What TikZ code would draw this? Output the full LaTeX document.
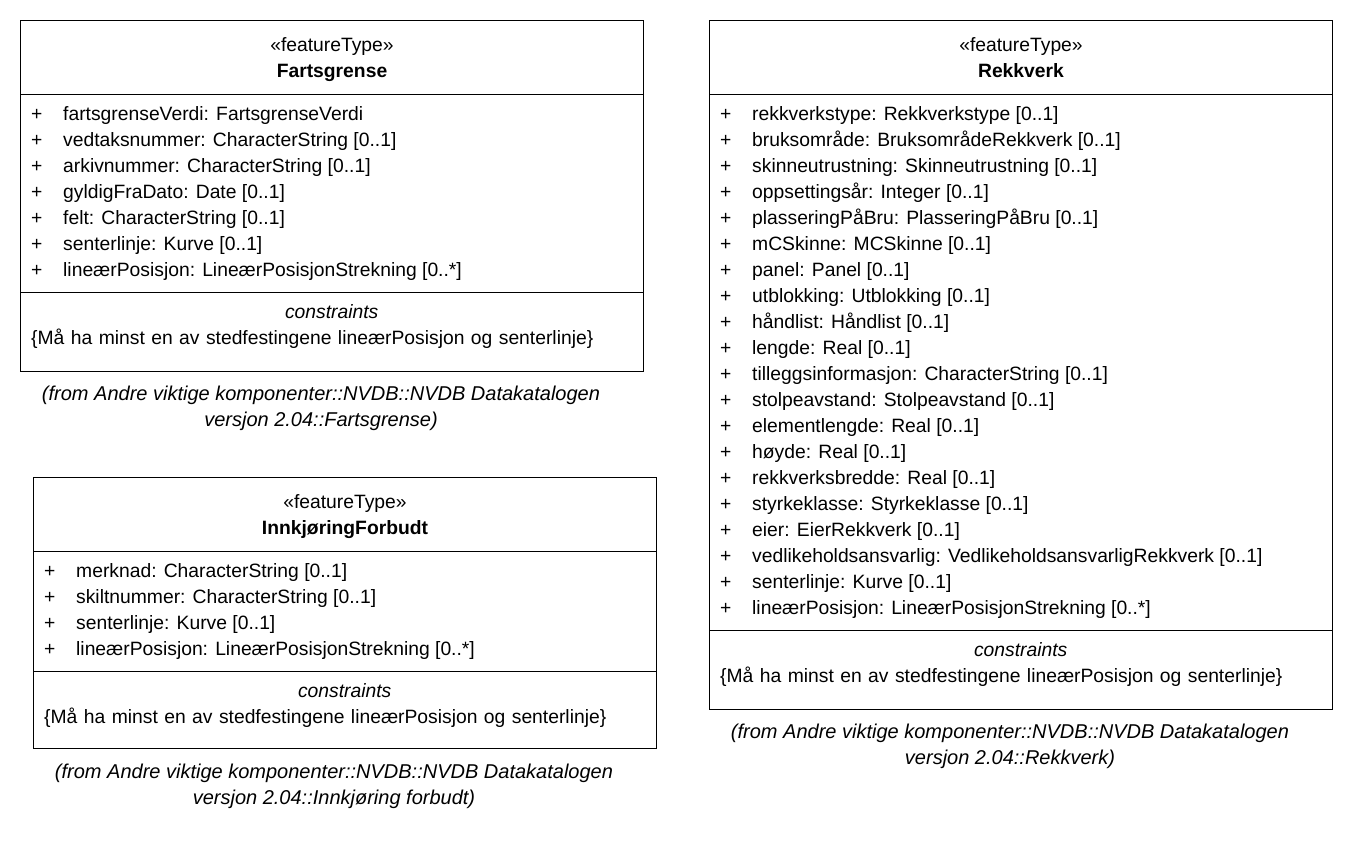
\documentclass[tikz,border=0pt]{standalone}
\usepackage{fontspec}
\setmainfont{Liberation Sans}
\usetikzlibrary{positioning}
\tikzset{
  uml_font/.style = {font=\fontsize{19.3}{26}\selectfont},
  note_font/.style = {font=\fontsize{20}{26}\selectfont\itshape},
  box_line/.style = {line width=1pt}
}
\tikzset{
  frame/.style = {draw, box_line, anchor=north west, inner sep=0, minimum width=623},
  head/.style = {uml_font, align=center, anchor=north, inner sep=0, minimum height=74, text width=623},
  attrs/.style = {uml_font, anchor=north west, inner xsep=11, inner ysep=8},
  cons/.style = {uml_font, anchor=north west, inner xsep=11, inner ysep=7, text width=601, align=left},
  note/.style = {note_font, align=center, anchor=north, inner sep=0, xshift=-11}
}

\begin{document}
\begin{tikzpicture}[x=1pt, y=-1pt, node distance=10pt]
        \useasboundingbox (0,0) rectangle (1354,844);

        % Frames
        \node[frame, minimum height=351] (fg) at (20,20) {};
        \node[frame, minimum height=689] (rv) at (709,20) {};
        \node[frame, minimum height=271] (ik) at (33,477) {};

        % Fartsgrense
        \node[head] at (fg.north) (fg_head) {
            \rule{0pt}{22pt}«featureType»\\ \textbf{Fartsgrense}\strut
            };
        \node[attrs] at (fg_head.south -| fg.west) (fg_attr) {
            \begin{tabular}{@{}p{32pt}@{}l@{}}
            + & fartsgrenseVerdi: FartsgrenseVerdi \\
            + & vedtaksnummer: CharacterString [0..1] \\
            + & arkivnummer: CharacterString [0..1] \\
            + & gyldigFraDato: Date [0..1] \\
            + & felt: CharacterString [0..1] \\
            + & senterlinje: Kurve [0..1] \\
            + & lineærPosisjon: LineærPosisjonStrekning [0..*]
            \end{tabular}
            };
        \node[cons] at (fg_attr.south -| fg.west) (fg_cons) {
            \strut\makebox[601pt]{\itshape constraints}\\
            \{Må ha minst en av stedfestingene lineærPosisjon og senterlinje\}
            };
        \node[note, below=of fg] (fg_note) {
            \strut(from Andre viktige komponenter::NVDB::NVDB Datakatalogen\\
            versjon 2.04::Fartsgrense)\strut
            };

        % Rekkverk
        \node[head] at (rv.north) (rv_head) {
            \rule{0pt}{22pt}«featureType»\\ \textbf{Rekkverk}\strut
            };
        \node[attrs] at (rv_head.south -| rv.west) (rv_attr) {
            \begin{tabular}{@{}p{32pt}@{}l@{}}
            + & rekkverkstype: Rekkverkstype [0..1] \\
            + & bruksområde: BruksområdeRekkverk [0..1] \\
            + & skinneutrustning: Skinneutrustning [0..1] \\
            + & oppsettingsår: Integer [0..1] \\
            + & plasseringPåBru: PlasseringPåBru [0..1] \\
            + & mCSkinne: MCSkinne [0..1] \\
            + & panel: Panel [0..1] \\
            + & utblokking: Utblokking [0..1] \\
            + & håndlist: Håndlist [0..1] \\
            + & lengde: Real [0..1] \\
            + & tilleggsinformasjon: CharacterString [0..1] \\
            + & stolpeavstand: Stolpeavstand [0..1] \\
            + & elementlengde: Real [0..1] \\
            + & høyde: Real [0..1] \\
            + & rekkverksbredde: Real [0..1] \\
            + & styrkeklasse: Styrkeklasse [0..1] \\
            + & eier: EierRekkverk [0..1] \\
            + & vedlikeholdsansvarlig: VedlikeholdsansvarligRekkverk [0..1] \\
            + & senterlinje: Kurve [0..1] \\
            + & lineærPosisjon: LineærPosisjonStrekning [0..*]
            \end{tabular}
            };
        \node[cons] at (rv_attr.south -| rv.west) (rv_cons) {
            \strut\makebox[601pt]{\itshape constraints}\\
            \{Må ha minst en av stedfestingene lineærPosisjon og senterlinje\}
            };
        \node[note, below=of rv] (rv_note) {
            \strut(from Andre viktige komponenter::NVDB::NVDB Datakatalogen\\
            versjon 2.04::Rekkverk)\strut
            };

        % InnkjøringForbudt
        \node[head] at (ik.north) (ik_head) {
            \rule{0pt}{22pt}«featureType»\\ \textbf{InnkjøringForbudt}\strut
            };
        \node[attrs] at (ik_head.south -| ik.west) (ik_attr) {
            \begin{tabular}{@{}p{32pt}@{}l@{}}
            + & merknad: CharacterString [0..1] \\
            + & skiltnummer: CharacterString [0..1] \\
            + & senterlinje: Kurve [0..1] \\
            + & lineærPosisjon: LineærPosisjonStrekning [0..*]
            \end{tabular}
            };
        \node[cons] at (ik_attr.south -| ik.west) (ik_cons) {
            \strut\makebox[601pt]{\itshape constraints}\\
            \{Må ha minst en av stedfestingene lineærPosisjon og senterlinje\}
            };
        \node[note, below=11pt of ik] (ik_note) {
            \strut(from Andre viktige komponenter::NVDB::NVDB Datakatalogen\\
            versjon 2.04::Innkjøring forbudt)\strut
            };

        % Compartment lines
        \draw[box_line] (fg_head.south -| fg.west)--(fg_head.south -| fg.east);
        \draw[box_line] (fg_attr.south -| fg.west)--(fg_attr.south -| fg.east);
        \draw[box_line] (rv_head.south -| rv.west)--(rv_head.south -| rv.east);
        \draw[box_line] (rv_attr.south -| rv.west)--(rv_attr.south -| rv.east);
        \draw[box_line] (ik_head.south -| ik.west)--(ik_head.south -| ik.east);
        \draw[box_line] (ik_attr.south -| ik.west)--(ik_attr.south -| ik.east);
    \end{tikzpicture}
\end{document}
